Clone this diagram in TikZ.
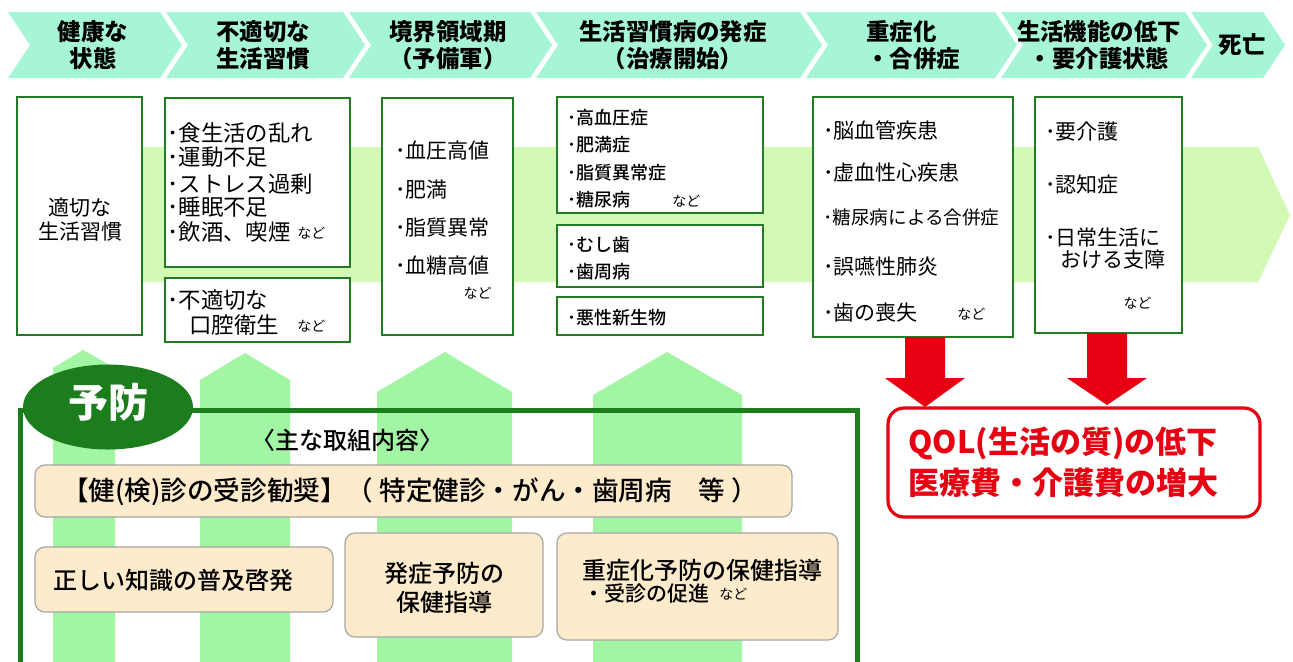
\documentclass[tikz,border=0pt]{standalone}
\usepackage{fontspec}
\setmainfont{Noto Sans CJK JP}
\newfontfamily\jpmed{Noto Sans CJK JP Medium}
\usetikzlibrary{fit,calc,shapes.geometric}
\definecolor{chev}{HTML}{A6F5D6}
\definecolor{band}{HTML}{D2FAB4}
\definecolor{upg}{HTML}{A2F5A2}
\definecolor{bgreen}{HTML}{247A24}
\definecolor{dgreen}{HTML}{1B7D1B}
\definecolor{beige}{HTML}{FDEBCB}
\definecolor{qred}{HTML}{E60012}
\begin{document}
\begin{tikzpicture}[x=0.5pt,y=-0.5pt,
  hdr/.style={font=\bfseries\fontsize{11.7}{13.5}\selectfont, align=center, inner sep=0pt},
  gbox/.style={draw=bgreen, line width=1.4pt, fill=white, inner sep=0pt},
  bt/.style={font=\fontsize{10.5}{12.5}\selectfont, anchor=west, inner sep=0pt},
  bbt/.style={font=\fontsize{11.2}{12.5}\selectfont, anchor=west, inner sep=0pt},
  st/.style={font=\jpmed\fontsize{9}{11}\selectfont, anchor=west, inner sep=0pt},
  ndn/.style={font=\fontsize{7}{8}\selectfont, inner sep=0pt},
  kbox/.style={draw=gray!70, line width=0.6pt, fill=beige, rounded corners=5pt, inner sep=0pt},
  kt/.style={font=\jpmed\fontsize{12}{14.5}\selectfont, inner sep=0pt},
  rbox/.style={draw=qred, line width=1.6pt, fill=white, rounded corners=8pt, inner sep=0pt},
  rt/.style={font=\bfseries\fontsize{15.5}{20}\selectfont, text=qred, inner sep=0pt, align=left},
  uparr/.style={fill=upg},
  redarr/.style={fill=qred}]
\useasboundingbox (0,0) rectangle (1293,661);
\clip (0,0) rectangle (1293,661);
\fill[white] (0,0) rectangle (1293,661);

% background band arrow
\fill[band] (20,147) -- (1258,147) -- (1290,215) -- (1258,282) -- (20,282) -- cycle;

% header chevrons
\foreach \L/\R in {8/160,166/343,349/530,536/800,806/995,1001/1185,1191/1263}
  \fill[chev] (\L,12) -- (\R,12) -- ({\R+22},45) -- (\R,78) -- (\L,78) -- ({\L+22},45) -- cycle;
\node[hdr] (h1) at (93,45) {健康な\\状態};
\node[hdr] (h2) at (263,45) {不適切な\\生活習慣};
\node[hdr] (h3) at (448,45) {境界領域期\\（予備軍）};
\node[hdr] (h4) at (673,45) {生活習慣病の発症\\（治療開始）};
\node[hdr, align=left, anchor=west] (h5) at (866,45) {重症化\\・合併症};
\node[hdr] (h6) at (1099,45) {生活機能の低下\\・要介護状態};
\node[hdr] (h7) at (1242,45) {死亡};

% boxes
\node[gbox, fit={(17,97) (142,335)}] (bA) {};
\node[gbox, fit={(165,98) (350,267)}] (bB1) {};
\node[gbox, fit={(165,278) (350,342)}] (bB2) {};
\node[gbox, fit={(382,98) (513,335)}] (bC) {};
\node[gbox, fit={(557,97) (763,213)}] (bD1) {};
\node[gbox, fit={(557,225) (763,287)}] (bD2) {};
\node[gbox, fit={(557,297) (763,335)}] (bD3) {};
\node[gbox, fit={(813,97) (1013,337)}] (bE) {};
\node[gbox, fit={(1035,97) (1182,333)}] (bF) {};

% box A
\node[bt, anchor=center] (a1) at (80,208) {適切な};
\node[bt, anchor=center] (a2) at (80,232) {生活習慣};
% box B1
\node[bbt] (b1) at (167,133) {･食生活の乱れ};
\node[bbt] (b2) at (167,157) {･運動不足};
\node[bbt] (b3) at (167,184) {･ストレス過剰};
\node[bbt] (b4) at (167,207) {･睡眠不足};
\node[bbt] (b5) at (167,232) {･飲酒、喫煙};
\node[ndn, anchor=west] (b5n) at (297,233) {など};
% box B2
\node[bbt] (b6) at (167,300) {･不適切な};
\node[bbt] (b7) at (189,325) {口腔衛生};
\node[ndn, anchor=west] (b7n) at (297,326) {など};
% box C
\node[bt] (c1) at (395,150) {･血圧高値};
\node[bt] (c2) at (395,190) {･肥満};
\node[bt] (c3) at (395,228) {･脂質異常};
\node[bt] (c4) at (395,265) {･血糖高値};
\node[ndn, anchor=east] (c5) at (492,293) {など};
% box D
\node[st] (d1) at (567,118) {･高血圧症};
\node[st] (d2) at (567,145) {･肥満症};
\node[st] (d3) at (567,173) {･脂質異常症};
\node[st] (d4) at (567,200) {･糖尿病};
\node[ndn, anchor=west] (d4n) at (672,201) {など};
\node[st] (d5) at (567,245) {･むし歯};
\node[st] (d6) at (567,272) {･歯周病};
\node[st] (d7) at (567,318) {･悪性新生物};
% box E
\node[bt] (e1) at (823,130) {･脳血管疾患};
\node[bt] (e2) at (823,173) {･虚血性心疾患};
\node[bt, font=\fontsize{9.3}{11}\selectfont] (e3) at (823,217) {･糖尿病による合併症};
\node[bt] (e4) at (823,267) {･誤嚥性肺炎};
\node[bt] (e5) at (823,313) {･歯の喪失};
\node[ndn, anchor=west] (e5n) at (957,314) {など};
% box F
\node[bt] (f1) at (1045,132) {･要介護};
\node[bt] (f2) at (1045,185) {･認知症};
\node[bt] (f3) at (1045,237) {･日常生活に};
\node[bt] (f4) at (1060,260) {おける支障};
\node[ndn, anchor=east] (f5) at (1152,303) {など};

% red arrows and result box
\fill[redarr] (905,337) -- (945,337) -- (945,378) -- (965,378) -- (925,407) -- (885,378) -- (905,378) -- cycle;
\fill[redarr] (1087,333) -- (1127,333) -- (1127,378) -- (1147,378) -- (1107,405) -- (1067,378) -- (1087,378) -- cycle;
\node[rbox, fit={(888,408) (1260,517)}] (rb) {};
\node[rt, anchor=west] (r1) at (908,443) {QOL(生活の質)の低下};
\node[rt, anchor=west] (r2) at (908,483) {医療費・介護費の増大};

% green up arrows
\fill[uparr] (53,680) -- (53,368) -- (83,350) -- (115,368) -- (115,680) -- cycle;
\fill[uparr] (200,680) -- (200,380) -- (245,353) -- (290,380) -- (290,680) -- cycle;
\fill[uparr] (377,680) -- (377,392) -- (445,352) -- (512,392) -- (512,680) -- cycle;
\fill[uparr] (593,680) -- (593,395) -- (667,352) -- (742,395) -- (742,680) -- cycle;

% prevention frame
\draw[dgreen, line width=2.5pt] (20,690) -- (20,410) -- (857,410) -- (857,690);
\node[ellipse, fill=dgreen, minimum width=85pt, minimum height=42.5pt, inner sep=0pt] (yobo) at (108,407) {};
\node[font=\bfseries\fontsize{20}{24}\selectfont, text=white, inner sep=0pt] (yobot) at (108,402) {予防};
\node[font=\jpmed\fontsize{12}{14}\selectfont, inner sep=0pt] (main) at (347,440) {〈主な取組内容〉};

% beige boxes
\node[kbox, fit={(35,465) (792,517)}] (k1) {};
\node[kt, font=\jpmed\fontsize{13.3}{15}\selectfont] (k1t) at (410,492) {【健(検)診の受診勧奨】（ 特定健診・がん・歯周病　等 ）};
\node[kbox, fit={(35,547) (333,612)}] (k2) {};
\node[kt, anchor=west] (k2t) at (53,580) {正しい知識の普及啓発};
\node[kbox, fit={(345,533) (543,637)}] (k3) {};
\node[kt] (k3a) at (444,573) {発症予防の};
\node[kt] (k3b) at (444,602) {保健指導};
\node[kbox, fit={(557,533) (838,640)}] (k4) {};
\node[kt, anchor=west] (k4a) at (582,570) {重症化予防の保健指導};
\node[kt, anchor=west, font=\jpmed\fontsize{10.5}{12}\selectfont] (k4b) at (583,593) {・受診の促進};
\node[ndn, anchor=west] (k4n) at (719,594) {など};
\end{tikzpicture}
\end{document}
